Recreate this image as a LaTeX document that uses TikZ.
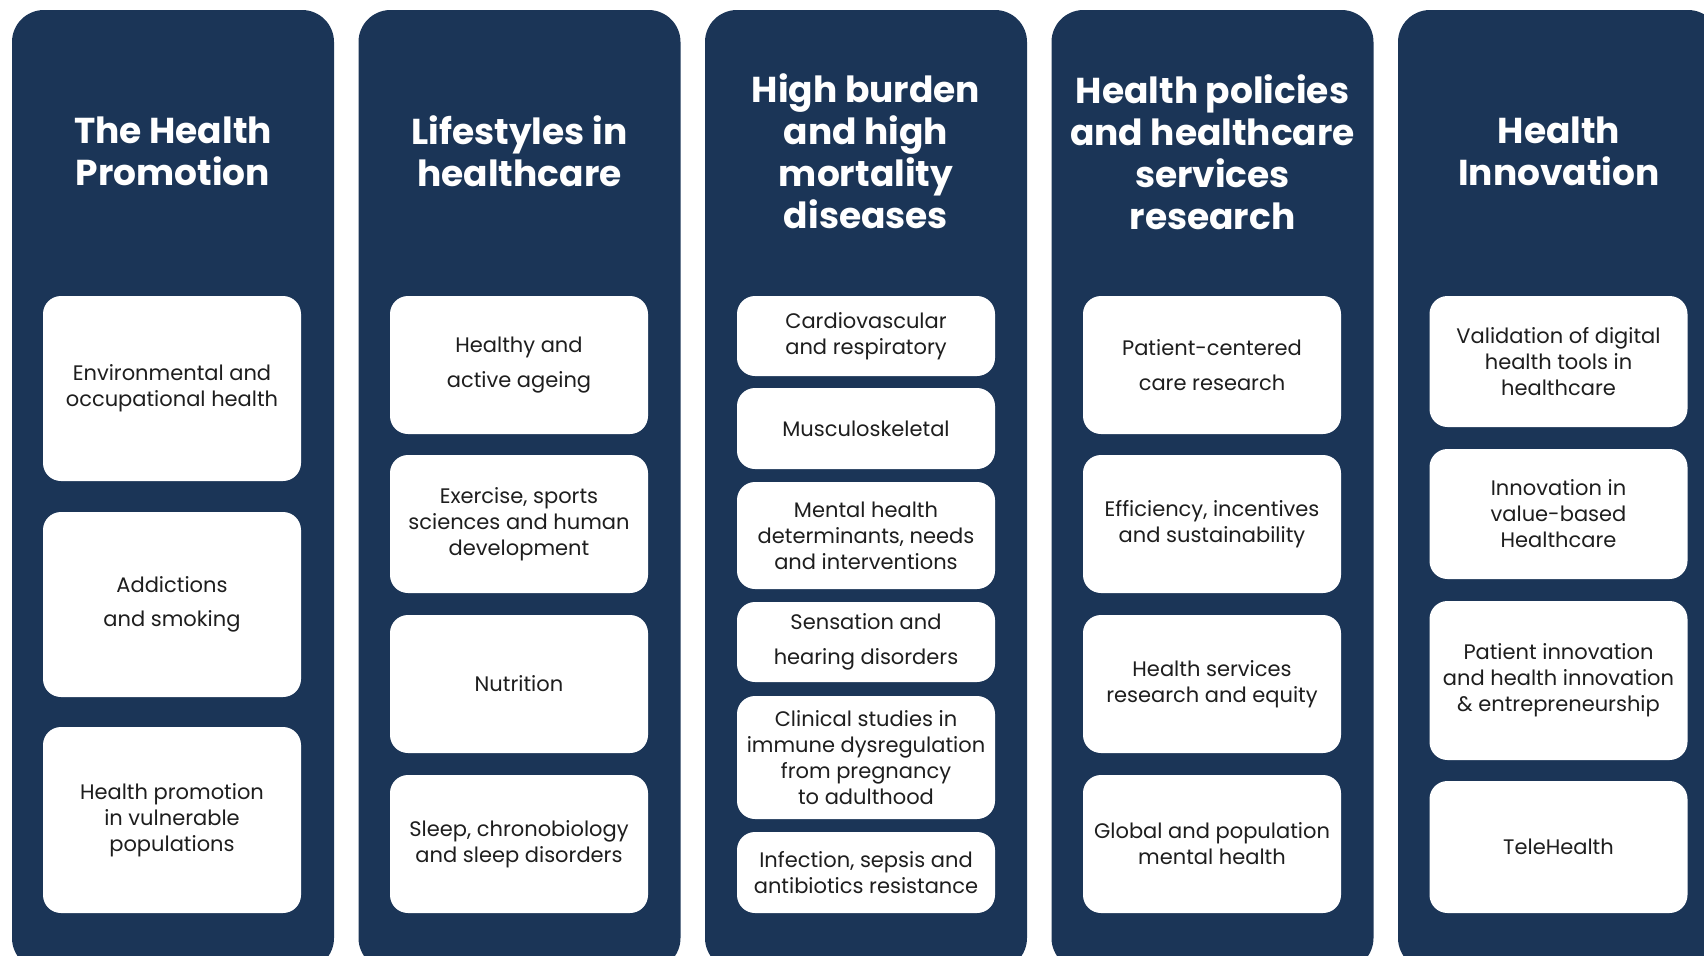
\documentclass[tikz,border=0pt]{standalone}
\usepackage{fontspec}
\setmainfont{Poppins}
\definecolor{navy}{HTML}{1B3557}
\definecolor{ink}{HTML}{1E1E1E}
\tikzset{
  column/.style={fill=navy, rounded corners=16pt},
  heading/.style={text=white, font=\bfseries\fontsize{18}{21}\selectfont, align=center, inner sep=0pt},
  topic/.style={fill=white, rounded corners=9pt, minimum width=129pt, align=center, text=ink, font=\fontsize{10.5}{13}\selectfont, inner sep=0pt},
}
\begin{document}
\begin{tikzpicture}[x=0.5pt, y=-0.5pt]
\useasboundingbox (0,0) rectangle (1704,955);
\begin{scope}
\clip (0,0) rectangle (1704,955);
\foreach \i in {0,...,4} \fill[column] (12+346.5*\i,10) rectangle ++(322,960);
\end{scope}
\node[heading] (t1) at (173,151) {The Health\\Promotion};
\node[heading] (t2) at (519.5,151) {Lifestyles in\\healthcare};
\node[heading] (t3) at (866,151) {High burden\\and high\\mortality\\diseases};
\node[heading] (t4) at (1212.5,152) {Health policies\\and healthcare\\services\\research};
\node[heading] (t5) at (1559,151) {Health\\Innovation};
%\draw[red] (0,296) -- (1704,296);
\node[topic, minimum height=92.5pt] (hp1) at (172,388.5) {Environmental and\\occupational health};
\node[topic, minimum height=92.5pt] (hp2) at (172,604.5) {Addictions\\[4pt]and smoking};
\node[topic, minimum height=93pt] (hp3) at (172,820) {Health promotion\\in vulnerable\\populations};
\node[topic, minimum height=69pt] (ls1) at (519,365) {Healthy and\\[4.5pt]active ageing};
\node[topic, minimum height=69pt] (ls2) at (519,524) {Exercise, sports\\sciences and human\\development};
\node[topic, minimum height=69pt] (ls3) at (519,684) {Nutrition};
\node[topic, minimum height=69pt] (ls4) at (519,844) {Sleep, chronobiology\\and sleep disorders};
\node[topic, minimum height=40pt] (hb1) at (866,336) {Cardiovascular\\and respiratory};
\node[topic, minimum height=40.5pt] (hb2) at (866,428.5) {Musculoskeletal};
\node[topic, minimum height=53.5pt] (hb3) at (866,535.5) {Mental health\\determinants, needs\\and interventions};
\node[topic, minimum height=40pt] (hb4) at (866,642) {Sensation and\\[4.5pt]hearing disorders};
\node[topic, minimum height=61.5pt] (hb5) at (866,757.5) {Clinical studies in\\immune dysregulation\\from pregnancy\\to adulthood};
\node[topic, minimum height=40.5pt] (hb6) at (866,872.5) {Infection, sepsis and\\antibiotics resistance};
\node[topic, minimum height=69pt] (pr1) at (1212,365) {Patient-centered\\[4.5pt]care research};
\node[topic, minimum height=69pt] (pr2) at (1212,524) {Efficiency, incentives\\and sustainability};
\node[topic, minimum height=69pt] (pr3) at (1212,684) {Health services\\research and equity};
\node[topic, minimum height=69pt] (pr4) at (1212,844) {Global and population\\mental health};
\node[topic, minimum height=65.5pt] (in1) at (1558.5,361.5) {Validation of digital\\health tools in\\healthcare};
\node[topic, minimum height=65pt] (in2) at (1558.5,514) {Innovation in\\value-based\\Healthcare};
\node[topic, minimum height=79.5pt] (in3) at (1558.5,680.5) {Patient innovation\\and health innovation\\\& entrepreneurship};
\node[topic, minimum height=66pt] (in4) at (1558.5,847) {TeleHealth};
\end{tikzpicture}
\end{document}
